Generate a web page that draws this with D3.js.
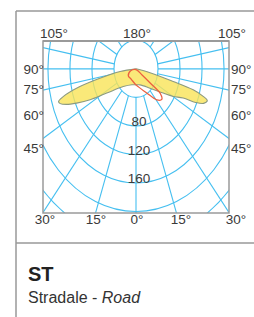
<!DOCTYPE html>
<html><head><meta charset="utf-8">
<script src="https://cdn.jsdelivr.net/npm/d3@7"></script>
<style>
body{margin:0;background:#fff;}
svg{display:block;font-family:"Liberation Sans",Arial,sans-serif;}
</style>
</head><body>
<svg id="c" width="254" height="317"></svg>
<script>
// ---- data ----
const circleValues = [40, 80, 120, 160, 200, 240, 280];
const circleLabels = [80, 120, 160];
const radialAngles = [-180, -160, -140, -120, -100, -90, -80, -60, -40, -20, 0, 20, 40, 60, 80, 90, 100, 120, 140, 160, 180];
const topLabels = ["105°", "180°", "105°"];
const sideLabels = ["90°", "75°", "60°", "45°"];
const bottomLabels = ["30°", "15°", "0°", "15°", "30°"];
// C0-C180 plane (yellow): signed gamma in degrees (+ right), intensity cd/klm
const planeAGamma = [90, 78, 75.3, 74.2, 72.5, 71, 68.5, 66.5, 64.5, 60, 55.5, 43, 18, 0, -18, -43, -57.4, -62.5, -66, -68.5, -70.5, -72, -73.6, -76.3, -78.7, -82.6, -90];
const planeAValue = [0, 26, 70, 108, 128, 137, 132, 118, 95, 77, 60, 37, 23.6, 22.5, 23.5, 34, 63, 94, 118, 136, 146, 148, 138, 105, 67, 29, 0];
// C90-C270 plane (red)
const planeBGamma = [0, -75, -55, -30, 0, 30, 41, 47.5, 52, 52.5, 52];
const planeBValue = [1, 10, 17, 17, 22.5, 39, 57.5, 63.5, 56, 33, 14];
const titleText = "ST";
const subtitleText = "Stradale - ";
const subtitleItalic = "Road";

// ---- layout ----
const svg = d3.select("#c");
const box = {l: 43, r: 229, t: 41, b: 213};
const x = d3.scaleLinear().domain([-169, 169]).range([box.l, box.r]);
const y = d3.scaleLinear().domain([-39, 202]).range([box.t, box.b]);
const px = (g, v) => x(v * Math.sin(g * Math.PI / 180));
const py = (g, v) => y(v * Math.cos(g * Math.PI / 180));
const gridColor = "#45bff0";
const textColor = "#3a3a3a";

// outer frame
svg.append("line").attr("x1", 16).attr("x2", 254).attr("y1", 11).attr("y2", 11).attr("stroke", "#999").attr("stroke-width", 1.5);
svg.append("line").attr("x1", 16).attr("x2", 16).attr("y1", 11).attr("y2", 317).attr("stroke", "#999").attr("stroke-width", 1.5);
svg.append("line").attr("x1", 16).attr("x2", 254).attr("y1", 243).attr("y2", 243).attr("stroke", "#999").attr("stroke-width", 1.5);

svg.append("clipPath").attr("id", "clip").append("rect")
  .attr("x", box.l).attr("y", box.t).attr("width", box.r - box.l).attr("height", box.b - box.t);
const plot = svg.append("g").attr("clip-path", "url(#clip)");

// elliptical grid circles
plot.selectAll("ellipse.grid").data(circleValues).join("ellipse")
  .attr("cx", x(0)).attr("cy", y(0))
  .attr("rx", d => x(d) - x(0)).attr("ry", d => y(d) - y(0))
  .attr("fill", "none").attr("stroke", gridColor).attr("stroke-width", 1.1);

// radial lines
plot.selectAll("line.rad").data(radialAngles).join("line")
  .attr("x1", d => px(d, 40)).attr("y1", d => py(d, 40))
  .attr("x2", d => px(d, 500)).attr("y2", d => py(d, 500))
  .attr("stroke", gridColor).attr("stroke-width", 1.1);

// curves
const lineA = d3.line().x(d => px(d[0], d[1])).y(d => py(d[0], d[1])).curve(d3.curveCatmullRom.alpha(0.5));
const ptsA = planeAGamma.map((g, i) => [g, planeAValue[i]]);
plot.append("path").attr("d", lineA(ptsA) + "Z")
  .attr("fill", "#f9e458").attr("fill-opacity", 0.8)
  .attr("stroke", "#8c9a80").attr("stroke-width", 1.1);

const lineB = d3.line().x(d => px(d[0], d[1])).y(d => py(d[0], d[1])).curve(d3.curveCatmullRomClosed.alpha(0.5));
const ptsB = planeBGamma.map((g, i) => [g, planeBValue[i]]);
plot.append("path").attr("d", lineB(ptsB))
  .attr("fill", "none").attr("stroke", "#ec6040").attr("stroke-width", 1.3);

// box
svg.append("rect").attr("x", box.l).attr("y", box.t).attr("width", box.r - box.l).attr("height", box.b - box.t)
  .attr("fill", "none").attr("stroke", "#9a9a9a").attr("stroke-width", 1.5);
svg.append("line").attr("x1", box.l).attr("x2", box.r).attr("y1", box.t).attr("y2", box.t).attr("stroke", "#9a9a9a").attr("stroke-width", 2.2);

// labels
const fs = 13.5;
const lab = (t, xx, yy, anchor) => svg.append("text").text(t).attr("x", xx).attr("y", yy).attr("dy", "0.35em")
  .attr("text-anchor", anchor).attr("font-size", fs).attr("fill", textColor);
const topX = [54, 137, 232];
topLabels.forEach((t, i) => lab(t, topX[i], 33, "middle"));
const sideY = [69, 89, 115, 148];
sideLabels.forEach((t, i) => { lab(t, 44, sideY[i], "end"); lab(t, 231, sideY[i], "start"); });
const botX = [45, 96, 137, 181, 236];
bottomLabels.forEach((t, i) => lab(t, botX[i], 219, "middle"));
circleLabels.forEach(v => lab(String(v), 139, y(v) - 4.5, "middle"));

// title
svg.append("text").text(titleText).attr("x", 28).attr("y", 281).attr("font-size", 20).attr("font-weight", "bold").attr("fill", "#222");
const st = svg.append("text").attr("x", 28).attr("y", 303).attr("font-size", 16).attr("fill", "#333");
st.append("tspan").text(subtitleText);
st.append("tspan").attr("font-style", "italic").text(subtitleItalic);
</script>
</body></html>
